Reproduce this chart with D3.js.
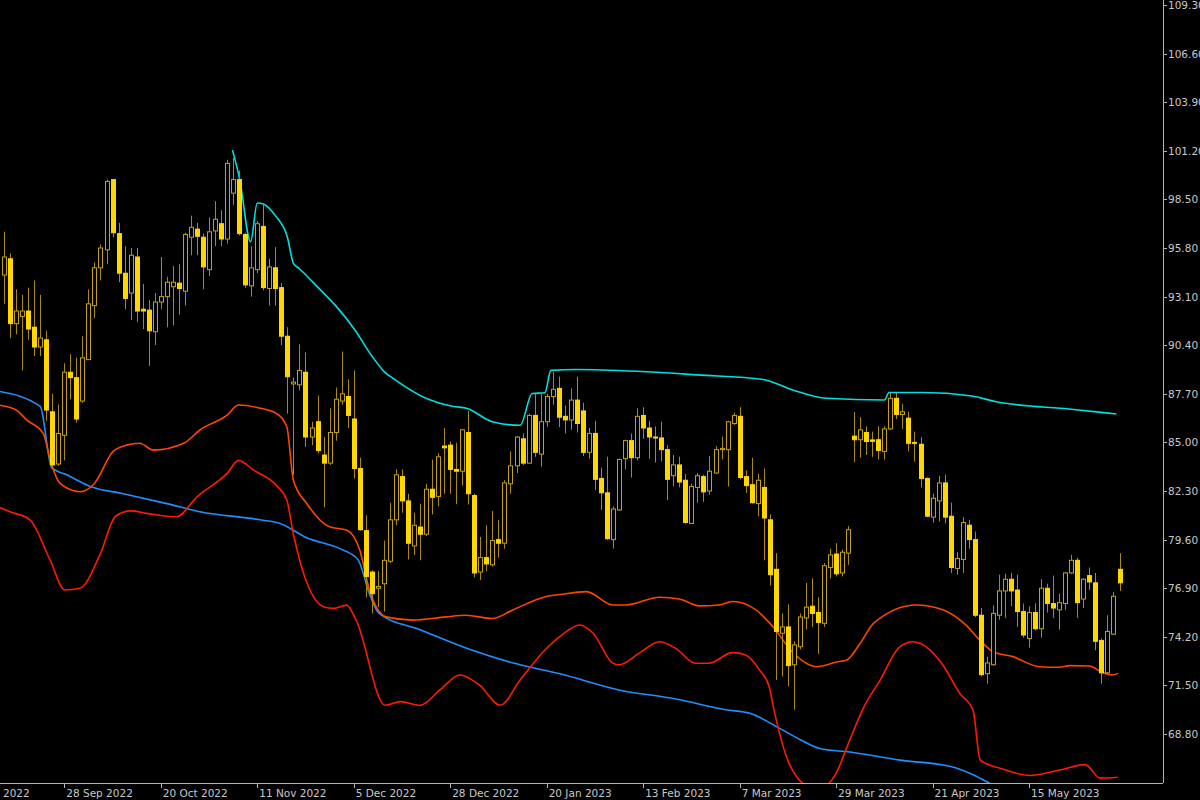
<!DOCTYPE html>
<html>
<head>
<meta charset="utf-8">
<script src="https://cdn.jsdelivr.net/npm/d3@7"></script>
<style>
  html, body { margin: 0; padding: 0; background: #000; }
  svg { display: block; }
  .axis text { fill: #c8c8c8; font-family: "DejaVu Sans", sans-serif; font-size: 10.5px; }
</style>
</head>
<body>
<svg id="chart" width="1200" height="800"></svg>
<script>
// daily bars
const opens = [94.3,95.2,91.6,92.0,92.3,91.4,90.3,90.7,86.7,83.8,85.4,88.9,88.6,87.3,89.6,92.6,94.7,95.7,99.6,96.6,
  94.4,93.3,95.3,92.4,92.35,91.15,92.8,93.1,93.65,93.85,93.4,96.4,96.85,96.4,94.6,96.75,97.15,96.3,98.85,99.6,
  96.55,93.7,94.6,97.0,93.55,94.7,93.6,90.9,88.25,88.2,88.9,85.3,86.15,84.3,83.85,85.55,87.3,87.55,86.3,83.55,
  80.1,77.8,76.9,77.15,78.4,80.7,83.1,81.75,79.25,80.3,79.9,82.4,82.0,84.8,84.85,83.5,83.4,85.55,82.05,77.8,
  78.6,78.2,79.6,79.4,82.7,83.7,85.2,83.85,86.5,84.35,86.15,87.55,88.0,86.45,86.25,87.35,86.75,84.45,85.5,83.0,
  82.2,79.6,81.25,84.1,85.1,84.15,86.5,85.8,85.3,85.25,84.6,83.15,83.75,82.9,80.5,82.5,83.1,82.3,83.3,84.6,
  84.6,86.05,86.45,83.1,82.65,81.6,82.5,80.7,77.95,74.4,74.75,72.65,73.65,75.25,75.9,75.55,74.95,78.05,78.8,77.75,
  78.85,85.35,85.15,85.55,85.14,85.15,84.5,85.75,87.45,86.55,86.35,85.0,84.9,83.0,80.85,81.75,82.75,80.9,78.0,78.5,
  80.4,79.6,75.4,72.15,72.65,75.4,76.75,77.4,76.8,75.6,74.1,75.55,74.65,76.9,76.05,75.7,76.05,77.75,78.45,76.3,
  77.6,77.2,74.0,72.2,74.35,77.95];
const highs = [96.7,95.5,93.5,93.2,93.6,94.0,93.2,91.2,87.7,87.1,89.4,89.9,89.7,90.9,93.5,95.0,96.0,99.6,99.6,97.2,
  95.9,95.8,95.8,93.8,92.9,93.3,95.3,94.2,94.8,94.9,96.65,97.6,97.2,96.6,97.5,98.4,97.9,100.7,100.8,100.1,
  96.65,95.9,97.3,98.2,95.2,95.85,93.85,91.4,88.6,90.45,90.0,86.15,87.6,85.3,86.9,88.05,90.05,88.5,89.0,84.15,
  80.95,77.9,77.85,79.55,81.65,83.5,83.5,82.15,81.1,81.6,82.7,84.05,84.4,85.8,85.05,84.98,85.75,86.75,82.15,79.75,
  80.4,81.2,80.7,82.9,84.5,85.35,85.5,86.6,87.7,87.7,87.7,88.9,88.65,87.05,88.0,88.65,87.2,85.8,86.2,83.6,
  84.2,81.45,84.1,85.15,85.5,86.9,86.95,86.2,85.88,86.15,84.85,84.3,84.2,83.25,82.7,83.3,83.2,84.25,84.8,85.32,
  86.2,86.65,86.95,83.45,84.15,83.25,83.55,81.0,78.85,75.5,76.0,73.95,75.5,77.2,77.45,76.4,78.3,79.1,79.4,79.05,
  80.35,86.7,86.4,85.9,85.6,85.9,85.9,87.75,87.75,87.15,86.7,85.6,85.3,83.05,82.15,83.15,83.2,81.65,78.9,80.85,
  80.7,80.05,75.8,73.1,75.95,77.65,77.7,77.75,77.65,76.05,75.9,76.06,77.4,77.15,77.6,76.6,77.8,78.75,78.6,77.45,
  78.05,77.75,74.1,75.4,76.7,78.85];
const lows = [92.7,90.8,91.0,89.0,90.7,89.8,89.8,86.2,83.6,83.7,84.0,87.4,86.1,87.2,89.6,91.9,94.0,94.9,96.4,93.9,
  92.4,91.8,91.7,91.3,89.25,90.4,92.4,91.4,91.5,92.1,92.6,95.4,95.4,93.5,94.25,95.9,95.9,96.05,98.2,96.5,
  93.6,93.1,94.4,93.45,92.6,92.6,90.4,86.6,83.2,87.9,84.75,84.85,84.4,81.4,83.75,85.1,87.1,85.8,83.0,80.1,
  76.4,75.5,75.85,75.6,78.3,80.4,81.1,78.5,78.75,78.45,79.8,81.0,81.45,82.15,82.15,81.57,82.6,81.55,77.5,77.35,
  77.85,78.1,78.6,79.1,82.15,83.3,83.74,83.83,84.2,83.65,85.87,87.1,85.85,85.5,85.7,85.55,84.25,84.1,82.35,81.25,
  79.6,79.1,81.2,83.5,83.05,84.0,85.2,84.1,83.88,83.95,81.8,82.55,82.5,80.5,80.47,81.65,81.7,82.1,83.25,84.06,
  82.55,85.97,82.95,82.2,81.6,80.9,78.45,77.05,71.8,72.0,71.45,70.15,73.5,74.6,74.75,73.25,74.75,77.45,77.55,77.55,
  78.2,83.9,84.15,84.3,84.2,84.05,84.05,85.7,86.3,85.75,84.5,83.93,82.5,80.85,80.55,80.6,80.5,77.75,77.65,77.75,
  79.1,75.3,72.0,71.6,72.6,75.15,75.25,75.9,74.75,74.15,73.6,74.55,74.15,75.55,75.25,74.6,75.7,77.7,75.25,75.8,
  76.8,73.45,71.6,72.15,74.3,76.75];
const closes = [95.3,91.6,92.3,92.3,91.3,90.3,90.8,86.8,83.75,85.5,88.9,88.6,86.3,89.7,92.7,94.7,95.8,99.5,96.65,94.4,
  93.0,95.4,92.3,92.3,91.2,92.8,93.1,93.9,93.9,93.55,96.55,96.95,96.45,94.75,96.7,97.4,96.3,100.5,99.6,96.6,
  93.75,94.7,97.15,93.6,94.75,93.55,90.9,88.65,88.35,89.0,85.3,85.8,84.55,83.85,85.55,87.4,87.7,86.5,83.55,80.15,
  77.55,76.6,77.0,78.45,80.7,83.2,81.75,79.4,80.4,79.9,82.4,81.95,84.2,84.7,83.5,83.4,85.7,82.15,77.75,78.6,
  78.25,79.55,79.4,82.75,83.7,85.3,83.85,86.5,84.45,86.15,87.55,87.95,86.4,86.25,87.35,86.05,84.45,85.5,82.95,82.2,
  79.65,81.3,84.05,85.1,84.15,86.45,85.8,85.3,85.25,84.6,82.95,83.75,82.8,80.55,82.55,83.15,82.25,83.4,84.6,84.67,
  86.15,86.5,83.05,82.6,81.65,82.9,80.8,77.65,74.5,74.75,72.6,73.75,75.3,75.85,75.5,75.0,78.15,78.75,77.7,78.9,
  80.15,85.15,85.7,85.05,85.06,84.55,85.75,87.45,86.55,86.7,84.95,84.95,83.0,80.9,81.9,82.75,80.85,78.05,78.55,80.55,
  79.6,75.4,72.1,72.75,75.5,76.75,77.4,76.75,75.6,74.3,75.55,74.65,76.9,76.05,75.8,76.1,77.75,78.45,76.1,77.4,
  77.25,73.95,72.2,74.5,76.45,77.2];

// indicator lines: [bar index, value]
const upperLine = [[37.9,101.24],[39.1,99.6],[40.9,96.15],[42,98.3],[43,98.25],[45,97.6],[47,96.4],[48,94.95],[49,94.65],
  [52.4,93.5],[55,92.6],[58.2,91.25],[61,89.8],[63,88.95],[65,88.45],[70,87.45],[74.5,87.0],[76.7,86.9],[81,86.15],
  [85.6,85.95],[87.6,87.72],[89.7,87.76],[90.7,89.0],[95,89.05],[105,88.95],[115,88.75],[125.9,88.5],[130.9,87.9],
  [136.4,87.45],[146,87.36],[146.8,87.77],[152.3,87.77],[160.5,87.58],[164.4,87.27],[177,86.84],[184.5,86.58]];
const blueLine = [[-1,87.85],[6,87.0],[7.9,83.6],[10.4,83.2],[14.3,82.55],[19.8,82.15],[27,81.6],[32.5,81.15],[42.5,80.7],
  [45.8,80.5],[50.2,79.7],[55.7,79.1],[58.7,78.5],[60.6,76.6],[62.2,75.5],[69,74.6],[77.3,73.5],[85,72.7],[92.2,72.15],
  [102,71.25],[111.4,70.75],[119.7,70.15],[123.7,69.95],[128.7,69.1],[132,68.5],[135.3,68.0],[140.3,67.8],[148.6,67.35],
  [157,67.0],[161,66.5],[163.5,66.05],[166,65.6]];
const orangeLine = [[-1,87.08],[2,86.8],[3.8,86.24],[6.5,85.5],[7.9,83.74],[9.3,82.72],[12.6,82.26],[15,82.72],[18.1,84.5],
  [20.3,84.85],[22.5,84.95],[24.8,84.57],[29.8,84.95],[32.5,85.69],[37,86.52],[38.9,87.08],[42.5,86.9],[45.2,86.6],
  [46.9,85.87],[48,82.9],[50.2,81.61],[54,80.31],[56.8,80.13],[59,79.02],[60.6,76.8],[63.4,75.31],[67.8,75.13],
  [73.3,75.31],[76.6,75.4],[81,75.22],[84.3,75.68],[89.8,76.43],[92.2,76.55],[96.6,76.71],[101,75.97],[103.2,75.97],
  [108.7,76.4],[112,76.3],[115.3,75.92],[118.6,75.97],[120.8,76.16],[124.7,75.7],[127.5,74.77],[130.9,73.3],
  [134.8,72.54],[138.3,72.82],[139.7,72.9],[142,73.84],[144.2,74.95],[151.3,75.97],[155.7,75.7],[159.5,74.86],
  [161.8,74.03],[164,73.38],[167.3,73.1],[171.7,72.54],[175,72.51],[176.7,72.6],[180,72.58],[182.2,72.21],
  [183.8,72.08],[184.8,72.17]];
const redLine = [[-1,81.43],[1,81.15],[4.3,80.7],[7.6,78.5],[10.1,76.8],[12.6,76.9],[15.9,78.75],[18.5,80.9],[21,81.2],
  [23.7,81.06],[28.6,80.87],[32,81.98],[37,83.28],[38.9,84.0],[41.4,83.46],[45.2,82.6],[46.9,81.8],[48,79.9],[53,75.87],
  [54.7,75.78],[56.8,75.96],[58.4,75.13],[63.2,70.4],[65.7,70.6],[69,70.4],[72.3,71.25],[75.6,72.08],[78.9,71.5],
  [82.3,70.4],[85.6,71.8],[89.7,73.47],[92.5,74.3],[95.5,74.86],[97.7,74.4],[101,72.73],[102,72.64],[105.3,73.28],
  [108.7,73.93],[111.4,73.56],[114.7,72.73],[116.9,72.73],[120.8,73.32],[123,73.19],[125.3,72.36],[126.9,71.43],
  [127.7,70.14],[130.3,67.1],[133.7,65.9],[136,65.9],[137.8,66.5],[140.3,68.5],[142.5,70.23],[145.3,71.8],[148.6,73.66],
  [150.8,73.93],[151.9,73.84],[155.7,72.64],[158.5,71.06],[160.7,70.14],[161.9,67.35],[165.2,66.9],[170.1,66.5],
  [175.1,66.8],[179.3,67.1],[181.8,66.35],[184.7,66.4]];

const priceTicks = [109.30,106.60,103.90,101.20,98.50,95.80,93.10,90.40,87.70,85.00,82.30,79.60,76.90,74.20,71.50,68.80];
const dateTicks = [-6,10,26,42,58,74,90,106,122,138,154,170];
const dateLabels = ['6 Sep 2022','28 Sep 2022','20 Oct 2022','11 Nov 2022','5 Dec 2022','28 Dec 2022',
  '20 Jan 2023','13 Feb 2023','7 Mar 2023','29 Mar 2023','21 Apr 2023','15 May 2023'];

const plotW = 1163, plotH = 783;
const svg = d3.select('#chart');

const x = d3.scaleLinear().domain([0, 185]).range([4, 1119.5]);
const y = d3.scaleLinear().domain([109.3, 66.08]).range([5, plotH]);

svg.append('defs').append('clipPath').attr('id', 'plot-clip')
  .append('rect').attr('width', plotW).attr('height', plotH);

const g = svg.append('g').attr('clip-path', 'url(#plot-clip)');

// indicator lines
const line = d3.line().x(d => x(d[0])).y(d => y(d[1])).curve(d3.curveMonotoneX);
const series = [
  { data: blueLine, color: '#1e90ff' },
  { data: redLine, color: '#ff1a00' },
  { data: orangeLine, color: '#ff4500' },
  { data: upperLine, color: '#00e0e0' }
];
g.selectAll('path.ind').data(series).enter().append('path')
  .attr('class', 'ind')
  .attr('d', d => line(d.data))
  .attr('fill', 'none')
  .attr('stroke', d => d.color)
  .attr('stroke-width', 1.6);

// candles
const bars = d3.range(opens.length);
const wickColor = '#a88c08';
const candle = g.append('g').selectAll('g').data(bars).enter().append('g');

candle.append('line')
  .attr('x1', i => Math.round(x(i)) + 0.5)
  .attr('x2', i => Math.round(x(i)) + 0.5)
  .attr('y1', i => y(highs[i]))
  .attr('y2', i => y(lows[i]))
  .attr('stroke', wickColor)
  .attr('stroke-width', 1);

candle.append('rect')
  .attr('x', i => Math.round(x(i)) - 1.5)
  .attr('width', 4)
  .attr('y', i => y(Math.max(opens[i], closes[i])))
  .attr('height', i => Math.max(1, Math.abs(y(opens[i]) - y(closes[i]))))
  .attr('fill', i => closes[i] >= opens[i] ? '#000' : '#ffd700')
  .attr('stroke', i => closes[i] >= opens[i] ? '#c4a20a' : '#ffd700')
  .attr('stroke-width', 1);

// axes
const axisColor = '#b4b4b4';
svg.append('line').attr('x1', plotW + 0.5).attr('x2', plotW + 0.5).attr('y1', 0).attr('y2', plotH)
  .attr('stroke', axisColor);
svg.append('line').attr('x1', 0).attr('x2', plotW).attr('y1', plotH + 0.5).attr('y2', plotH + 0.5)
  .attr('stroke', axisColor);

const yAx = svg.append('g').attr('class', 'axis');
yAx.selectAll('line').data(priceTicks).enter().append('line')
  .attr('x1', plotW).attr('x2', plotW + 4)
  .attr('y1', d => Math.round(y(d)) + 0.5).attr('y2', d => Math.round(y(d)) + 0.5)
  .attr('stroke', axisColor);
yAx.selectAll('text').data(priceTicks).enter().append('text')
  .attr('x', plotW + 5).attr('y', d => y(d) + 4)
  .text(d => d.toFixed(2));

const xAx = svg.append('g').attr('class', 'axis');
xAx.selectAll('line').data(dateTicks).enter().append('line')
  .attr('x1', d => Math.round(x(d)) + 0.5).attr('x2', d => Math.round(x(d)) + 0.5)
  .attr('y1', plotH).attr('y2', plotH + 5)
  .attr('stroke', axisColor);
xAx.selectAll('text').data(dateTicks).enter().append('text')
  .attr('x', d => x(d) + 2).attr('y', plotH + 14)
  .text((d, i) => dateLabels[i]);
</script>
</body>
</html>
